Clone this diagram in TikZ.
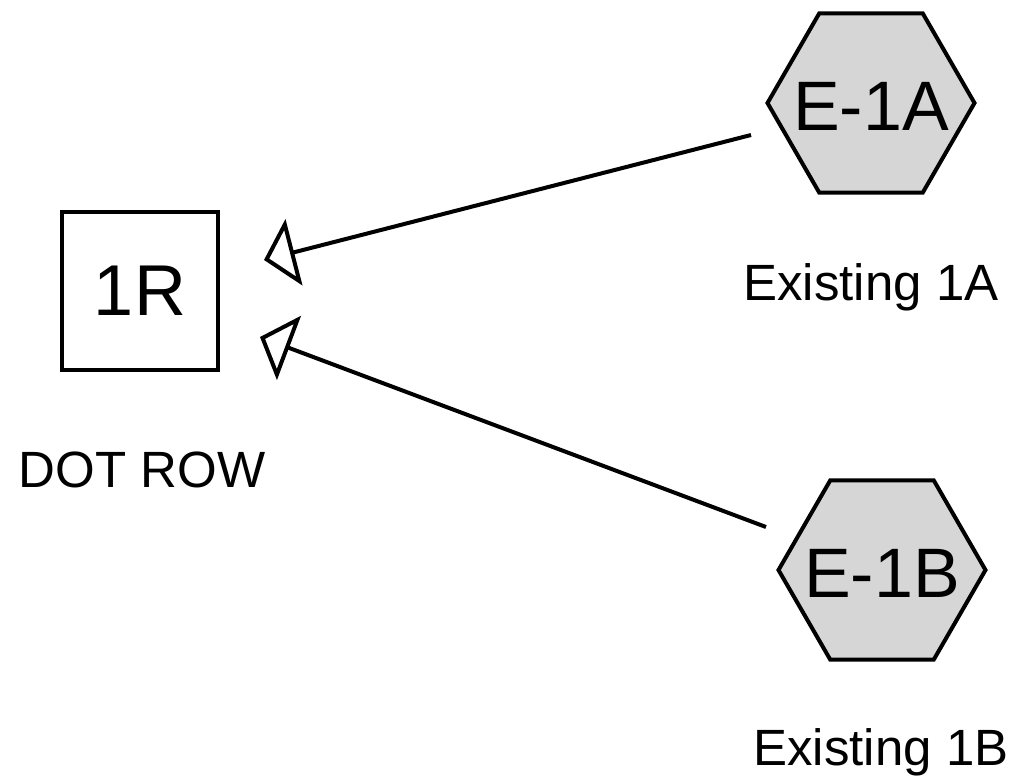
\documentclass[tikz,border=0pt]{standalone}
\usepackage{fontspec}
\setmainfont{Liberation Sans}
\usetikzlibrary{shapes.geometric,arrows.meta}
\begin{document}
\begin{tikzpicture}[x=1pt,y=-1pt,
  hexnode/.style={regular polygon, regular polygon sides=6, minimum size=207pt,
    inner sep=0pt, outer sep=0pt, draw=black, line width=4pt, fill=black!16},
  hextext/.style={inner sep=0pt, font=\fontsize{70}{70}\selectfont},
  boxnode/.style={rectangle, draw=black, line width=3.5pt, minimum width=156pt,
    minimum height=158pt, inner sep=0pt, font=\fontsize{72}{72}\selectfont},
  lbl/.style={inner sep=0pt, anchor=base, font=\fontsize{51}{51}\selectfont},
  link/.style={line width=4pt, -{Triangle[open, length=31pt, width=68pt]}}]
\useasboundingbox (0,0) rectangle (1020,784);
\node[boxnode] (r1) at (140,291) {1R};
\node[hexnode] (ea) at (871,103) {};
\node[hextext] (eatext) at ([yshift=-3pt]ea.center) {E-1A};
\node[hexnode] (eb) at (882,570) {};
\node[hextext] (ebtext) at ([yshift=-3pt]eb.center) {E-1B};
\node[lbl] (ldot) at (142,487) {DOT ROW};
\node[lbl] (la) at (871,300) {Existing 1A};
\node[lbl] (lb) at (881,765) {Existing 1B};
\coordinate (sa) at (751,135);
\coordinate (ta) at (264,260);
\coordinate (sb) at (766,527);
\coordinate (tb) at (260,337);
\draw[link] (sa) -- (ta);
\draw[link] (sb) -- (tb);
\end{tikzpicture}
\end{document}
